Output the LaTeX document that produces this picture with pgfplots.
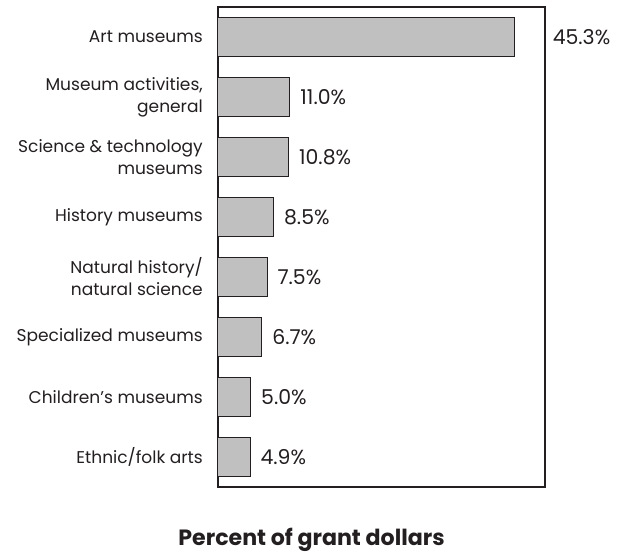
\documentclass[border=0pt]{standalone}
\usepackage{fontspec}
\setmainfont{Poppins}
\usepackage{pgfplots}
\pgfplotsset{compat=1.18}
\definecolor{barfill}{HTML}{C0C0C0}
\definecolor{ink}{HTML}{231F20}
\begin{document}
\begin{tikzpicture}[x=1bp,y=1bp]
\begin{axis}[name=ax, at={(0,0)}, anchor=south west,
  scale only axis, width=327bp, height=480bp,
  xbar, xmin=0, xmax=50, ymin=-0.5, ymax=7.5, y dir=reverse,
  ytick={0,...,7}, xtick=\empty, major tick length=0pt,
  yticklabels={Art museums,{Museum activities,\\general},{Science \& technology\\museums},History museums,{Natural history/\\natural science},Specialized museums,Children’s museums,Ethnic/folk arts},
  yticklabel style={align=right, inner sep=0pt, xshift=-15bp, font=\fontsize{17.1}{22}\selectfont, text=ink},
  xlabel={\bfseries Percent of grant dollars},
  xlabel style={at={(axis description cs:0.5,0)}, anchor=center, yshift=-53bp, xshift=-70bp, font=\fontsize{22.2}{27}\selectfont, text=ink},
  axis line style={ink, line width=1.2bp},
  /pgf/number format/assume math mode=true,
  nodes near coords={\pgfmathprintnumber[fixed,fixed zerofill,precision=1]{\pgfplotspointmeta}\%},
  every node near coord/.append style={anchor=west, inner sep=0pt, xshift=10bp, font=\fontsize{20.5}{24}\selectfont, text=ink},
  clip=false,
]
\addplot[bar shift=0pt, bar width=39bp, fill=barfill, draw=ink, line width=1bp,
  every node near coord/.append style={xshift=28bp}]
  coordinates {(45.3,0)};
\addplot[bar shift=0pt, bar width=39bp, fill=barfill, draw=ink, line width=1bp]
  coordinates {(11.0,1) (10.8,2) (8.5,3) (7.5,4) (6.7,5) (5.0,6) (4.9,7)};
\end{axis}
\pgfresetboundingbox
\path (-218,-67) rectangle (405,487);
\end{tikzpicture}
\end{document}
